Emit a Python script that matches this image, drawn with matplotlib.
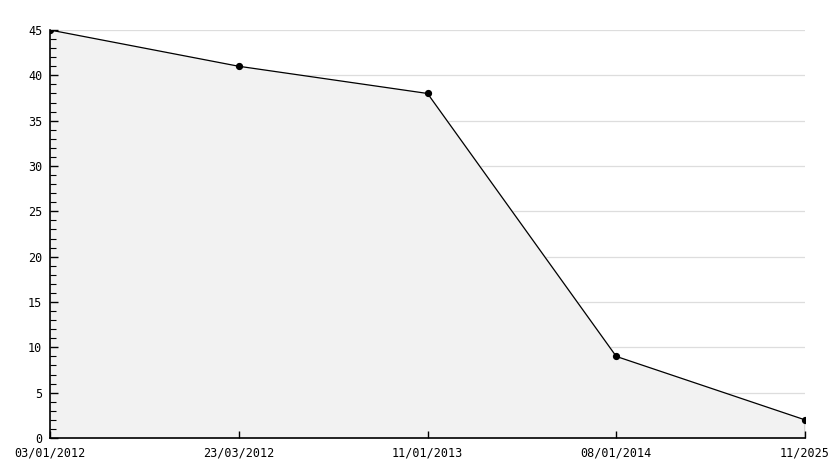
import numpy as np
import matplotlib.pyplot as plt
from matplotlib.ticker import MultipleLocator

labels = ['03/01/2012', '23/03/2012', '11/01/2013', '08/01/2014', '11/2025']
values = [45, 41, 38, 9, 2]
grid_vals = [5, 10, 15, 20, 25, 30, 35, 40, 45]

fig = plt.figure(figsize=(8.34, 4.68), dpi=100)
ax = fig.add_axes([50 / 834, 30 / 468, 755 / 834, 408 / 468])

x = np.arange(len(values))
# grid under the area, ticks above it
ax.hlines(grid_vals, 0, len(values) - 1, color='#dddddd', lw=0.9, zorder=0)
ax.fill_between(x, values, 0, color='#f2f2f2', zorder=1)
ax.plot(x, values, color='black', lw=0.9, marker='o', ms=4.2, zorder=3)
ax.plot([x[-1], x[-1]], [0, values[-1]], color='black', lw=0.9, zorder=3)

ax.set_xlim(0, len(values) - 1)
ax.set_ylim(0, 45)
ax.set_xticks(x)
ax.set_xticklabels(labels)
ax.yaxis.set_major_locator(MultipleLocator(5))
ax.yaxis.set_minor_locator(MultipleLocator(1))
ax.set_axisbelow(False)

for s in ['top', 'right']:
    ax.spines[s].set_visible(False)
ax.spines['left'].set_linewidth(1.2)
ax.spines['bottom'].set_linewidth(1.2)

ax.tick_params(axis='y', which='major', direction='in', length=6, width=1, pad=5.5)
ax.tick_params(axis='y', which='minor', direction='in', length=4, width=0.8)
ax.tick_params(axis='x', direction='in', length=5, width=1, pad=6)
for lab in ax.get_xticklabels() + ax.get_yticklabels():
    lab.set_fontfamily('DejaVu Sans Mono')
    lab.set_fontsize(8.5)

fig.savefig('out.png', dpi=100)
